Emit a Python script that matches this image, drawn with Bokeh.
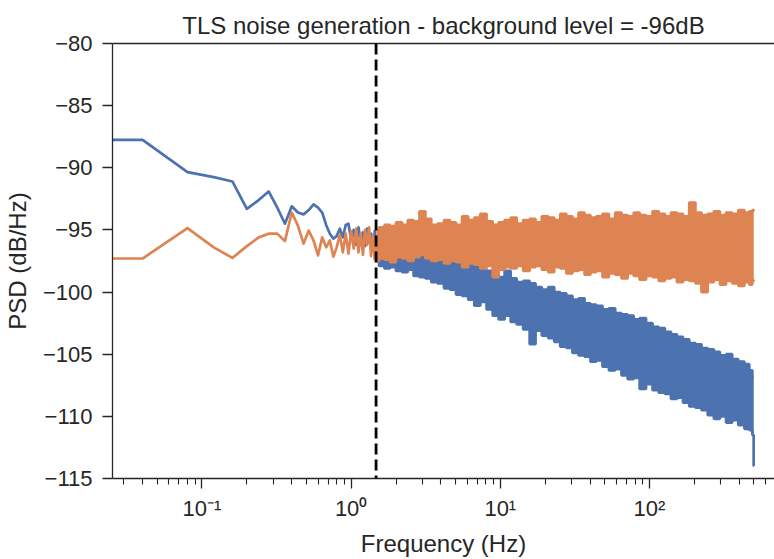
from bokeh.plotting import figure
from bokeh.models import FixedTicker, Span, LogAxis, Range1d
from bokeh.embed import file_html
from bokeh.resources import INLINE

# ---------------- data ----------------
# Resolved low-frequency bins (Hz). First entry stands in for the DC bin,
# which the original log axis pushed to the left edge.
freq_low = [0.001, 0.04, 0.08, 0.12, 0.16, 0.20, 0.24, 0.28, 0.32, 0.36, 0.40,
            0.44, 0.48, 0.52, 0.56, 0.60, 0.64, 0.68, 0.72, 0.76, 0.80,
            0.84, 0.88, 0.92, 0.96, 1.00, 1.04, 1.08, 1.12, 1.16, 1.20,
            1.24, 1.28, 1.32, 1.36, 1.40, 1.44, 1.48]
tls_low = [-87.8, -87.75, -90.35, -90.75, -91.1, -93.3, -92.6, -91.9, -93.2, -94.5, -93.1,
           -93.6, -93.75, -93.4, -92.95, -93.2, -93.6, -94.6, -95.3, -95.7, -95.5,
           -94.9, -95.6, -94.6, -94.5, -95.8, -95.0, -96.2, -94.8, -95.9, -95.2,
           -96.3, -94.9, -96.0, -95.3, -96.4, -95.1, -96.5]
bg_low = [-97.3, -97.3, -94.85, -96.4, -97.25, -96.3, -95.6, -95.3, -95.3, -95.9, -93.6,
          -94.65, -96.1, -95.05, -95.85, -97.05, -95.6, -96.4, -95.85, -97.15, -96.4,
          -95.4, -96.8, -95.3, -96.9, -95.1, -96.5, -94.9, -96.8, -95.3, -97.0,
          -95.0, -96.2, -94.8, -97.1, -95.4, -97.4, -95.6]

# Dense part of the spectrum: upper / lower extent of the noisy trace (Hz, dB/Hz)
freq_band = [1.48, 1.6, 1.75, 1.9, 2.1, 2.3, 2.5, 2.75, 3.0, 3.3, 3.6, 4.0, 4.4, 4.8,
             5.3, 5.8, 6.4, 7.0, 7.7, 8.5, 9.3, 10.2, 11.2, 12.3, 13.5, 15, 16.5, 18,
             20, 22, 24, 26.5, 29, 32, 35, 38.5, 42, 46, 51, 56, 62, 68, 75, 82, 90,
             100, 110, 121, 133, 146, 160, 176, 194, 213, 234, 258, 283, 311, 342,
             376, 413, 454, 480, 499, 500]
tls_hi = [-95.6, -95.8, -95.9, -95.8, -96.1, -96.0, -96.3, -96.5, -96.3, -96.6, -96.9,
          -96.8, -97.1, -97.0, -97.3, -97.5, -97.4, -97.8, -98.2, -98.3, -98.6, -98.8,
          -98.3, -98.9, -99.2, -99.1, -99.3, -99.6, -99.8, -99.6, -100.0, -100.1, -100.3,
          -100.6, -100.5, -100.9, -101.0, -101.1, -101.4, -101.3, -101.7, -101.8, -101.9,
          -102.2, -102.1, -102.5, -102.8, -102.9, -103.2, -103.4, -103.6, -103.8, -104.1,
          -104.2, -104.5, -104.6, -104.8, -105.1, -105.0, -105.4, -105.6, -105.8, -106.3,
          -106.8, -106.8]
tls_lo = [-97.4, -97.9, -98.1, -98.0, -98.3, -98.4, -98.2, -98.7, -98.8, -98.9, -99.2,
          -99.3, -99.7, -99.8, -100.2, -100.3, -100.6, -101.1, -100.8, -101.4, -101.9,
          -102.2, -101.9, -102.4, -102.6, -103.0, -104.2, -103.1, -103.5, -103.7, -104.0,
          -104.4, -104.5, -104.9, -105.1, -105.2, -105.6, -105.5, -106.0, -106.3, -106.2,
          -106.7, -107.0, -106.9, -107.8, -107.4, -107.9, -108.1, -108.2, -108.6, -108.5,
          -108.9, -109.2, -109.3, -109.5, -109.9, -110.2, -110.0, -110.5, -110.3, -110.7,
          -111.0, -111.1, -111.5, -114.0]
bg_hi = [-95.0, -94.8, -94.6, -94.7, -94.4, -94.6, -94.2, -94.3, -93.5, -94.1, -94.6,
         -94.5, -94.2, -94.4, -94.6, -93.9, -94.2, -94.0, -93.7, -94.3, -94.6, -94.4,
         -94.2, -94.0, -94.5, -94.2, -94.1, -94.4, -93.9, -94.0, -94.2, -93.7, -93.9,
         -94.1, -93.6, -93.8, -94.0, -93.9, -93.7, -94.1, -93.6, -93.8, -93.9, -93.6,
         -93.8, -93.9, -93.5, -93.7, -93.9, -93.6, -93.7, -93.9, -92.8, -93.6, -93.8,
         -93.7, -93.5, -93.8, -93.6, -93.7, -93.4, -93.6, -93.5, -93.4, -93.5]
bg_lo = [-97.5, -97.3, -97.4, -97.6, -97.2, -97.3, -97.5, -97.2, -97.0, -97.3, -97.5,
         -97.4, -97.7, -97.5, -97.6, -98.0, -97.7, -97.8, -98.1, -97.9, -98.8, -98.2,
         -98.0, -98.1, -97.9, -98.3, -98.0, -97.9, -98.2, -98.4, -98.0, -98.1, -98.5,
         -98.3, -98.2, -98.6, -98.4, -98.3, -98.8, -98.5, -98.6, -98.9, -98.5, -98.7,
         -99.0, -98.7, -98.8, -99.1, -98.9, -98.8, -99.2, -99.0, -99.1, -99.3, -100.0,
         -99.2, -99.0, -99.4, -99.1, -99.3, -99.5, -99.2, -99.4, -99.1, -99.0]

corner_freq = 1.47  # dashed marker (Hz)

x_major = [0.1, 1, 10, 100]
x_major_labels = ["10\u207b\u00b9", "10\u2070", "10\u00b9", "10\u00b2"]
y_major = [-115, -110, -105, -100, -95, -90, -85, -80]
y_major_labels = ["\u2212115", "\u2212110", "\u2212105", "\u2212100",
                  "\u221295", "\u221290", "\u221285", "\u221280"]

title_text = "TLS noise generation - background level = -96dB"
x_label = "Frequency (Hz)"
y_label = "PSD (dB/Hz)"

# ---------------- styling ----------------
BLUE = "#4c72b0"
ORANGE = "#dd8452"
INK = "#262626"
FONT = "Liberation Sans"
LW = 2.7

p = figure(width=774, height=559, x_axis_type="log",
           x_range=Range1d(0.02514, 689), y_range=Range1d(-115, -80),
           output_backend="svg", toolbar_location=None,
           min_border_left=112, min_border_right=0, min_border_top=43,
           min_border_bottom=80)
p.outline_line_color = None
p.grid.visible = False
p.background_fill_color = "white"
p.border_fill_color = "white"

xa = p.below[0]
ya = p.left[0]

# background-noise trace is drawn after (on top of) the TLS trace
p.line(freq_low, tls_low, color=BLUE, line_width=LW, line_join="round")
p.varea_step(x=freq_band, y1=tls_lo, y2=tls_hi, fill_color=BLUE, step_mode="center")
p.step(freq_band, tls_hi, color=BLUE, line_width=LW, mode="center")
p.step(freq_band, tls_lo, color=BLUE, line_width=LW, mode="center")

p.line(freq_low, bg_low, color=ORANGE, line_width=LW, line_join="round")
p.varea_step(x=freq_band, y1=bg_lo, y2=bg_hi, fill_color=ORANGE, step_mode="center")
p.step(freq_band, bg_hi, color=ORANGE, line_width=LW, mode="center")
p.step(freq_band, bg_lo, color=ORANGE, line_width=LW, mode="center")

p.add_layout(Span(location=corner_freq, dimension="height", line_color="black",
                  line_width=2.8, line_dash="11 5"))

# top spine only (no ticks, no labels); its tick space lifts the title a little
top = LogAxis(ticker=FixedTicker(ticks=[]), axis_line_color=INK, axis_line_width=1.3,
              major_tick_line_color=None, minor_tick_line_color=None,
              major_tick_in=0, major_tick_out=6,
              major_label_text_font_size="0px")
p.add_layout(top, "above")

xa.ticker = FixedTicker(ticks=x_major,
                        minor_ticks=[m * d for d in (0.01, 0.1, 1, 10, 100) for m in range(2, 10)])
xa.major_label_overrides = dict(zip(x_major, x_major_labels))
ya.ticker = FixedTicker(ticks=y_major)
ya.major_label_overrides = dict(zip(y_major, y_major_labels))

for ax in (xa, ya):
    ax.axis_line_color = INK
    ax.axis_line_width = 1.3
    ax.major_tick_line_color = INK
    ax.major_tick_line_width = 1.3
    ax.major_tick_in = 0
    ax.major_tick_out = 10
    ax.minor_tick_line_color = INK
    ax.minor_tick_line_width = 1.1
    ax.minor_tick_in = 0
    ax.minor_tick_out = 6
    ax.major_label_text_font = FONT
    ax.major_label_text_font_size = "22px"
    ax.major_label_text_color = INK
    ax.axis_label_text_font = FONT
    ax.axis_label_text_font_size = "24px"
    ax.axis_label_text_font_style = "normal"
    ax.axis_label_text_color = INK
ya.minor_tick_line_color = None
xa.axis_label = x_label
ya.axis_label = y_label
xa.major_label_standoff = 7
ya.major_label_standoff = 10
xa.axis_label_standoff = 6
ya.axis_label_standoff = 9

p.title.text = title_text
p.title.align = "center"
p.title.offset = 4
p.title.text_font = FONT
p.title.text_font_size = "24px"
p.title.text_font_style = "normal"
p.title.text_color = INK

open("out.html", "w").write(file_html(p, INLINE))
